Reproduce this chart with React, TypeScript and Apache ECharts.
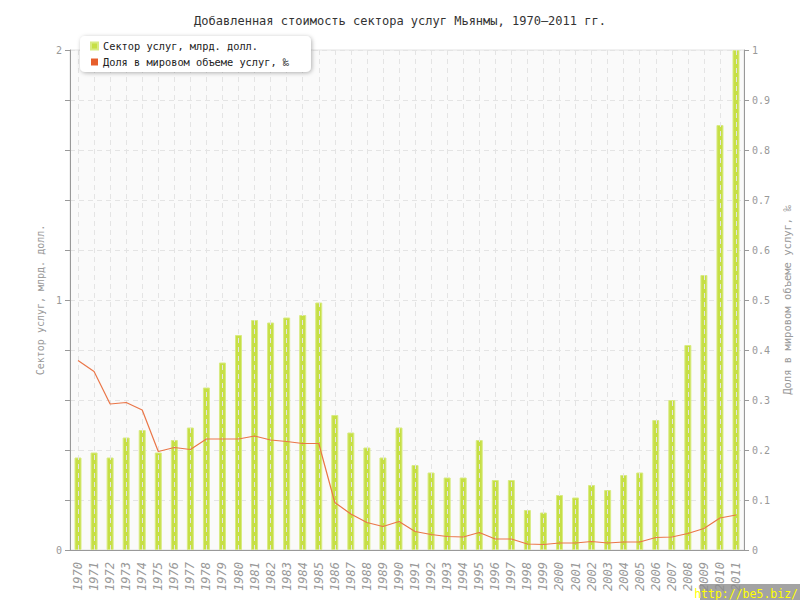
import React, { useEffect, useRef } from "react";
import * as echarts from "echarts";

const years = [
  "1970","1971","1972","1973","1974","1975","1976","1977","1978","1979",
  "1980","1981","1982","1983","1984","1985","1986","1987","1988","1989",
  "1990","1991","1992","1993","1994","1995","1996","1997","1998","1999",
  "2000","2001","2002","2003","2004","2005","2006","2007","2008","2009",
  "2010","2011",
];

// Services sector, bn USD
const servicesValue = [
  0.37, 0.39, 0.37, 0.45, 0.48, 0.39, 0.44, 0.49, 0.65, 0.75,
  0.86, 0.92, 0.91, 0.93, 0.94, 0.99, 0.54, 0.47, 0.41, 0.37,
  0.49, 0.34, 0.31, 0.29, 0.29, 0.44, 0.28, 0.28, 0.16, 0.15,
  0.22, 0.21, 0.26, 0.24, 0.30, 0.31, 0.52, 0.60, 0.82, 1.10,
  1.70, 2.0,
];

// Share of world services output, per mille
const worldShare = [
  0.379, 0.357, 0.292, 0.295, 0.28, 0.197, 0.205, 0.201, 0.222, 0.222,
  0.222, 0.228, 0.22, 0.217, 0.213, 0.213, 0.095, 0.072, 0.055, 0.047,
  0.057, 0.037, 0.031, 0.027, 0.026, 0.035, 0.022, 0.022, 0.012, 0.011,
  0.014, 0.014, 0.017, 0.014, 0.016, 0.016, 0.025, 0.026, 0.033, 0.043,
  0.064, 0.07,
];

const seriesNames = ["Сектор услуг, млрд. долл.", "Доля в мировом объеме услуг, ‰"];
const titleText = "Добавленная стоимость сектора услуг Мьянмы, 1970–2011 гг.";
const leftAxisName = "Сектор услуг, млрд. долл.";
const rightAxisName = "Доля в мировом объеме услуг, ‰";
const watermark = "http://be5.biz/";

const FONT = "DejaVu Sans Mono";

export default function App() {
  const ref = useRef<HTMLDivElement>(null);
  useEffect(() => {
    if (!ref.current) return;
    const chart = echarts.init(ref.current, undefined, { renderer: "svg" });
    chart.setOption({
      animation: false,
      textStyle: { fontFamily: FONT },
      title: {
        text: titleText,
        left: "center",
        top: 10,
        textStyle: { fontFamily: FONT, fontSize: 12, fontWeight: "normal", color: "#333" },
      },
      legend: {
        orient: "vertical",
        left: 80,
        top: 36,
        padding: [5, 22, 5, 10],
        itemGap: 6,
        itemWidth: 7,
        itemHeight: 7,
        icon: "rect",
        backgroundColor: "#fff",
        borderRadius: 5,
        shadowBlur: 4,
        shadowColor: "rgba(0,0,0,0.3)",
        shadowOffsetX: 1,
        shadowOffsetY: 1,
        textStyle: { fontFamily: FONT, fontSize: 10.3, color: "#222" },
        data: seriesNames,
        z: 10,
      },
      grid: {
        left: 70,
        right: 50,
        top: 50,
        bottom: 50,
        show: true,
        backgroundColor: "#fafafa",
        borderColor: "#e2e2e2",
        borderWidth: 1,
      },
      xAxis: {
        type: "category",
        data: years,
        boundaryGap: true,
        z: 5,
        axisLine: { lineStyle: { color: "#999", width: 1 } },
        axisTick: { alignWithLabel: true, length: 5, lineStyle: { color: "#999" } },
        axisLabel: {
          rotate: 90,
          interval: 0,
          fontFamily: FONT,
          fontSize: 12,
          fontStyle: "italic",
          color: "#999",
          margin: 12,
        },
        splitLine: {
          show: true,
          alignWithLabel: true,
          interval: 0,
          lineStyle: { color: "#e4e4e4", type: [5, 4], width: 1 },
        },
      } as any,
      yAxis: [
        {
          type: "value",
          min: 0,
          max: 2,
          interval: 0.2,
          name: leftAxisName,
          nameLocation: "middle",
          nameGap: 19,
          nameTextStyle: { fontFamily: FONT, fontSize: 10, color: "#999" },
          axisLine: { show: true, lineStyle: { color: "#999" } },
          axisTick: { show: true, length: 5, lineStyle: { color: "#999" } },
          axisLabel: {
            fontFamily: FONT,
            fontSize: 10,
            color: "#999",
            margin: 8,
            formatter: (v: number) => (Math.abs(v - Math.round(v)) < 1e-6 ? String(Math.round(v)) : ""),
          },
          splitLine: { show: true, lineStyle: { color: "#e4e4e4", type: [5, 4] } },
        },
        {
          type: "value",
          min: 0,
          max: 1,
          interval: 0.1,
          position: "right",
          name: rightAxisName,
          nameLocation: "middle",
          nameGap: 34,
          nameTextStyle: { fontFamily: FONT, fontSize: 10.5, color: "#999" },
          axisLine: { show: true, lineStyle: { color: "#999" } },
          axisTick: { show: true, length: 5, lineStyle: { color: "#999" } },
          axisLabel: {
            fontFamily: FONT,
            fontSize: 10,
            color: "#999",
            margin: 8,
            formatter: (v: number) => String(Math.round(v * 10) / 10),
          },
          splitLine: { show: false },
        },
      ],
      series: [
        {
          name: seriesNames[0],
          type: "bar",
          yAxisIndex: 0,
          data: servicesValue,
          barWidth: 7,
          itemStyle: { color: "#c6df45", borderColor: "#d8eb82", borderWidth: 1 },
        },
        {
          name: seriesNames[1],
          type: "line",
          yAxisIndex: 1,
          data: worldShare,
          symbol: "none",
          lineStyle: { color: "#ea7648", width: 1.2 },
          itemStyle: { color: "#e65e2c" },
          z: 6,
        },
      ],
      graphic: [
        {
          type: "rect",
          right: 0,
          bottom: 0,
          shape: { width: 100, height: 16 },
          style: { fill: "rgba(140,140,140,0.8)" },
          z: 20,
        },
        {
          type: "text",
          right: 2,
          bottom: 0,
          style: { text: watermark, fill: "#ffff00", fontFamily: FONT, fontSize: 11.5 },
          z: 21,
        },
      ],
    });
    return () => chart.dispose();
  }, []);
  return (
    <div
      ref={ref}
      style={{ position: "absolute", left: 0, top: 0, width: 800, height: 600 }}
    />
  );
}
